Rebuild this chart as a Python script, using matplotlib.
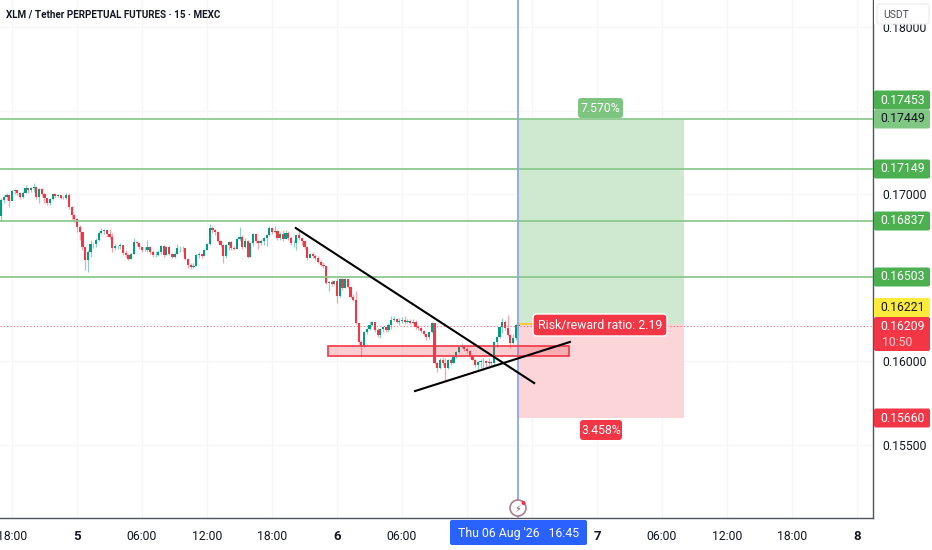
# XLM / USDT 15 minute chart with a long position drawn on it
import numpy as np
import matplotlib.pyplot as plt
from matplotlib.patches import FancyBboxPatch, Rectangle, Circle

plt.rcParams['font.family'] = ['Roboto', 'DejaVu Sans']

# Candles, prices in 1/100000 USDT
closes = [16964, 16982, 16994, 16958, 17018, 17024, 17006, 16982, 17006, 17036, 17024, 17036, 17042, 16982, 17030, 17000,
          16976, 16946, 16970, 17000, 16988, 16994, 16976, 16976, 16994, 16922, 16874, 16850, 16802, 16772, 16682, 16604,
          16652, 16700, 16700, 16724, 16766, 16778, 16784, 16760, 16742, 16676, 16688, 16688, 16694, 16646, 16634, 16610,
          16640, 16712, 16706, 16682, 16664, 16664, 16682, 16652, 16634, 16634, 16652, 16688, 16634, 16682, 16640, 16622,
          16640, 16676, 16676, 16676, 16610, 16574, 16562, 16568, 16634, 16640, 16628, 16664, 16700, 16796, 16784, 16772,
          16718, 16694, 16628, 16694, 16712, 16676, 16670, 16730, 16742, 16682, 16718, 16622, 16706, 16760, 16718, 16706,
          16718, 16736, 16754, 16796, 16772, 16778, 16736, 16760, 16730, 16766, 16736, 16706, 16706, 16754, 16736, 16718,
          16682, 16616, 16640, 16628, 16616, 16592, 16574, 16568, 16466, 16472, 16460, 16478, 16388, 16490, 16436, 16490,
          16442, 16382, 16364, 16226, 16112, 16088, 16172, 16190, 16214, 16232, 16184, 16154, 16190, 16202, 16184, 16214,
          16244, 16250, 16232, 16238, 16244, 16232, 16238, 16226, 16232, 16202, 16196, 16178, 16160, 16142, 16172, 16226,
          15986, 15956, 16004, 15986, 15956, 16004, 15986, 16022, 16052, 16082, 16088, 16070, 16058, 16028, 16004, 15974,
          15992, 15998, 15998, 15986, 15992, 15986, 16112, 16142, 16202, 16232, 16196, 16154, 16106, 16136, 16214, 16209]
highs = [16976, 16994, 17006, 16982, 17024, 17030, 17024, 17012, 17018, 17054, 17036, 17042, 17066, 17024, 17036, 17036,
         17006, 16976, 16976, 17006, 17006, 17000, 16994, 16988, 17006, 17006, 16928, 16880, 16856, 16814, 16772, 16682,
         16664, 16724, 16706, 16736, 16778, 16796, 16790, 16790, 16790, 16766, 16700, 16694, 16706, 16682, 16664, 16640,
         16646, 16736, 16718, 16706, 16676, 16682, 16724, 16688, 16664, 16658, 16664, 16694, 16694, 16688, 16688, 16646,
         16652, 16700, 16688, 16688, 16652, 16616, 16586, 16586, 16640, 16652, 16640, 16670, 16706, 16820, 16808, 16790,
         16778, 16724, 16700, 16700, 16718, 16718, 16688, 16736, 16802, 16754, 16736, 16724, 16712, 16766, 16766, 16724,
         16730, 16742, 16760, 16808, 16802, 16808, 16784, 16772, 16784, 16784, 16778, 16748, 16724, 16760, 16790, 16736,
         16724, 16688, 16646, 16652, 16640, 16628, 16604, 16592, 16568, 16478, 16484, 16484, 16496, 16496, 16496, 16496,
         16490, 16448, 16400, 16418, 16226, 16124, 16178, 16196, 16238, 16238, 16226, 16196, 16196, 16208, 16202, 16226,
         16268, 16268, 16256, 16256, 16262, 16268, 16250, 16250, 16250, 16244, 16214, 16202, 16184, 16160, 16172, 16232,
         16226, 15992, 16016, 16022, 16016, 16010, 16016, 16034, 16058, 16088, 16106, 16094, 16082, 16064, 16034, 16010,
         15998, 16010, 16016, 16004, 16016, 15998, 16118, 16148, 16208, 16256, 16244, 16274, 16160, 16160, 16220, 16220]
lows = [16838, 16946, 16964, 16922, 16970, 17000, 16994, 16970, 16976, 17006, 17006, 17012, 17012, 16970, 16946, 16988,
        16946, 16934, 16934, 16964, 16976, 16982, 16970, 16970, 16970, 16910, 16844, 16832, 16772, 16724, 16664, 16544,
        16532, 16622, 16676, 16682, 16718, 16760, 16760, 16742, 16730, 16652, 16664, 16670, 16670, 16634, 16622, 16604,
        16610, 16640, 16688, 16670, 16652, 16658, 16652, 16640, 16622, 16622, 16628, 16640, 16622, 16634, 16634, 16616,
        16616, 16640, 16652, 16652, 16604, 16556, 16550, 16556, 16574, 16616, 16616, 16628, 16664, 16694, 16766, 16754,
        16706, 16682, 16586, 16616, 16664, 16664, 16664, 16670, 16718, 16670, 16676, 16616, 16622, 16688, 16706, 16670,
        16694, 16694, 16688, 16748, 16760, 16766, 16724, 16724, 16718, 16754, 16724, 16694, 16682, 16664, 16724, 16694,
        16670, 16604, 16616, 16616, 16604, 16586, 16568, 16556, 16460, 16418, 16448, 16454, 16346, 16382, 16424, 16436,
        16436, 16376, 16358, 16220, 16100, 16022, 16082, 16160, 16184, 16208, 16172, 16142, 16136, 16172, 16172, 16172,
        16190, 16238, 16226, 16214, 16226, 16220, 16226, 16220, 16220, 16190, 16184, 16166, 16148, 16124, 16130, 16166,
        15980, 15932, 15950, 15974, 15884, 15950, 15974, 15986, 16016, 16046, 16076, 16058, 16046, 16016, 16004, 15962,
        15944, 15956, 15950, 15962, 15968, 15968, 15974, 16082, 16136, 16166, 16184, 16148, 16076, 16100, 16124, 16208]
first_open = 16868

# Levels and drawings
level_prices = [0.17449, 0.17149, 0.16837, 0.16503]
entry_price = 0.16221
target_price = 0.17449
stop_price = 0.15660
last_price = 0.16209
zone_prices = [0.16030, 0.16090]
zone_hours = [23.17, 45.42]
down_line = ([20.2, 42.2], [0.16796, 0.15868])
up_line = ([31.2, 45.5], [0.15820, 0.16114])

# Axis ticks, x in hours from 5 Aug 00:00. Labels under the tags are left empty
x_ticks = [-6, 0, 6, 12, 18, 24, 30, 36, 42, 48, 54, 60, 66, 72]
x_labels = ['18:00', '5', '06:00', '12:00', '18:00', '6', '06:00', '', '', '7', '06:00', '12:00', '18:00', '8']
y_ticks = [0.155, 0.160, 0.165, 0.170, 0.175, 0.180]
y_labels = ['0.15500', '0.16000', '', '0.17000', '', '0.18000']

RED = '#F23645'
TEAL = '#089981'
GREEN = '#4CAF50'
W, H = 932, 550
PLOT_W, PLOT_H = 873, 518

closes = np.array(closes) / 1e5
highs = np.array(highs) / 1e5
lows = np.array(lows) / 1e5
opens = np.concatenate(([first_open / 1e5], closes[:-1]))
hours = -7.0 + 0.25 * np.arange(len(closes))
colors = [TEAL if c >= o else RED for o, c in zip(opens, closes)]

fig = plt.figure(figsize=(W / 100, H / 100), dpi=100)
ax = fig.add_axes([0, (H - PLOT_H) / H, PLOT_W / W, PLOT_H / H])

# 65 px for 6 hours, 77 px is the 5 Aug mark; 16700 px per unit of price
ax.set_xlim(-77 * 6 / 65, (PLOT_W - 77) * 6 / 65)
ax.set_ylim(0.17 - (PLOT_H - 194) / 16700, 0.17 + 194 / 16700)

ax.set_xticks(x_ticks)
ax.set_xticklabels(x_labels, fontsize=8.8, color='#131722')
for lab, txt in zip(ax.get_xticklabels(), x_labels):
    if txt and ':' not in txt:
        lab.set_fontweight('bold')
        lab.set_fontsize(9.5)
ax.yaxis.tick_right()
ax.set_yticks(y_ticks)
ax.set_yticklabels(y_labels, fontsize=8.8, color='#131722')
ax.tick_params(length=0)
ax.tick_params(axis='x', pad=9)
ax.tick_params(axis='y', pad=7)
ax.grid(color='#F5F6F7', linewidth=0.9)
ax.set_axisbelow(True)
for side in ['top', 'left']:
    ax.spines[side].set_visible(False)
for side in ['right', 'bottom']:
    ax.spines[side].set_color('#50535E')
    ax.spines[side].set_linewidth(1.0)

# Long position boxes
start, end = 40.7, 56.03
ax.fill_between([start, end], entry_price, target_price, color='#CFE9D0', linewidth=0, zorder=1)
ax.fill_between([start, end], stop_price, entry_price, color='#FBD5D8', linewidth=0, zorder=1)
ax.plot([start, 42.4], [entry_price, entry_price], color='#FFC93C', linewidth=1.5, zorder=2)

# Candles
ax.vlines(hours, lows, highs, colors=colors, linewidth=0.9, alpha=0.45, zorder=3)
ax.bar(hours, np.abs(closes - opens), bottom=np.minimum(opens, closes), width=0.2,
       color=colors, linewidth=0, zorder=4)

# Levels
for p in level_prices:
    ax.axhline(p, color='#8CC98F', linewidth=1.3, zorder=5)
ax.axhline(last_price, color=RED, linewidth=0.8, linestyle=(0, (1, 2)), alpha=0.7, zorder=2)
ax.axvline(40.7, color='#8EA6EA', linewidth=1.3, zorder=6)

# Support zone and trend lines
zone_w = zone_hours[1] - zone_hours[0]
ax.add_patch(Rectangle((zone_hours[0], zone_prices[0]), zone_w, zone_prices[1] - zone_prices[0],
                       facecolor=RED, alpha=0.25, linewidth=0, zorder=6))
ax.add_patch(Rectangle((zone_hours[0], zone_prices[0]), zone_w, zone_prices[1] - zone_prices[0],
                       facecolor='none', edgecolor=RED, linewidth=1.2, zorder=6))
ax.plot(*down_line, color='black', linewidth=1.5, zorder=7)
ax.plot(*up_line, color='black', linewidth=1.5, zorder=7)

# Overlay in pixels for the tags and boxes
ov = fig.add_axes([0, 0, 1, 1])
ov.set_xlim(0, W)
ov.set_ylim(H, 0)
ov.axis('off')
ov.patch.set_alpha(0)


def tag(x0, y0, x1, y1, color, edge='none', rad=2):
    ov.add_patch(FancyBboxPatch((x0 + rad, y0 + rad), x1 - x0 - 2 * rad, y1 - y0 - 2 * rad,
                                boxstyle='round,pad=%d,rounding_size=%d' % (rad, rad),
                                facecolor=color, edgecolor=edge, linewidth=1))


def price_tag(txt, yc, color, text_color='white'):
    tag(874, yc - 9.5, 930, yc + 9.5, color)
    ov.text(902.5, yc, txt, color=text_color, fontsize=8.8, ha='center', va='center')


# Right scale tags
price_tag('0.17453', 100, GREEN)
price_tag('0.17449', 119, '#81C784', '#131722')
price_tag('0.17149', 169, GREEN)
price_tag('0.16837', 221, GREEN)
price_tag('0.16503', 277, GREEN)
price_tag('0.16221', 307.5, '#FFEB3B', '#131722')
tag(874, 317, 930, 351, RED)
ov.text(902.5, 326, '0.16209', color='white', fontsize=8.8, ha='center', va='center')
ov.text(897, 342, '10:50', color='#FBC9CD', fontsize=8.8, ha='center', va='center')
price_tag('0.15660', 418, RED)

# USDT box hides the upper half of the 0.18000 tick
ov.add_patch(Rectangle((874, 0), 58, 24, facecolor='white', linewidth=0))
tag(877, 4, 929, 24, 'white', edge='#EEEEEE', rad=3)
ov.text(883, 14.5, 'USDT', color='#4A4D57', fontsize=7.5, ha='left', va='center')

# Position labels
tag(578, 98, 623, 118, '#7CC47F', rad=3)
ov.text(600.5, 108, '7.570%', color='white', fontsize=8.8, ha='center', va='center')
tag(580, 420, 622, 440, RED, rad=3)
ov.text(601, 430, '3.458%', color='white', fontsize=8.8, ha='center', va='center')
tag(533, 314, 667, 336, RED, edge='white', rad=4)
ov.text(600, 325, 'Risk/reward ratio: 2.19', color='white', fontsize=8.9, ha='center', va='center')

# Crosshair time label
tag(450, 520, 587, 545, '#2962FF', rad=2)
ov.text(519, 534, "Thu 06 Aug '26   16:45", color='white', fontsize=8.8, ha='center', va='center')

# Flash icon on the time axis
ov.add_patch(Circle((518, 508), 8, facecolor='white', edgecolor='#A9808E', linewidth=1.2))
ov.text(518, 508.5, '\u26a1', color='#7A5563', fontsize=7, ha='center', va='center', family='DejaVu Sans')
ov.add_patch(Circle((523.5, 503), 2, facecolor=RED, linewidth=0))

# Title
ov.text(6, 14, 'XLM / Tether PERPETUAL FUTURES \u00b7 15 \u00b7 MEXC', color='#131722', fontsize=7.1,
        fontweight='bold', ha='left', va='center')

fig.savefig('out.png', dpi=100)
